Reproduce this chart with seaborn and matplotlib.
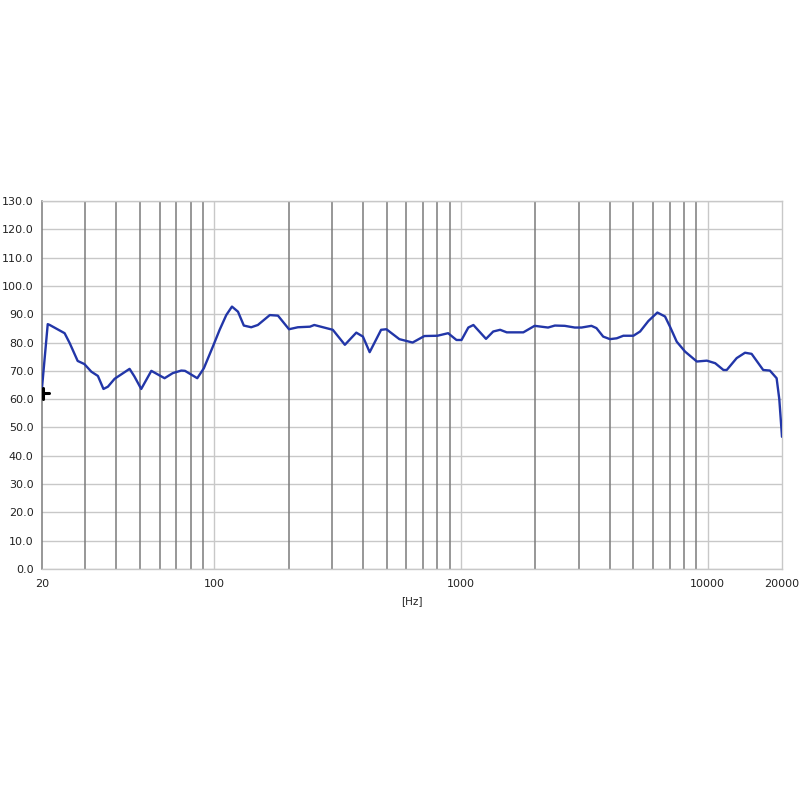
import numpy as np
import pandas as pd
import matplotlib
matplotlib.use("Agg")
import matplotlib.pyplot as plt
import matplotlib.ticker as mticker
import seaborn as sns

# frequency response
freq = [20, 21.1, 21.5, 24.7, 25.9, 27.9, 29.7, 31.7, 33.7, 35.5, 37.0, 39.4,
        45.3, 47.4, 50.5, 55.5, 62.8, 67.8, 73.4, 76, 85.2, 90.6, 98.6, 105,
        111.7, 117.8, 124.6, 131.6, 141, 150, 167.7, 181, 200.6, 218, 244, 254,
        302, 338, 376, 400, 426, 474, 498, 562, 636, 710, 802, 886, 958, 1004,
        1070, 1122, 1262, 1350, 1440, 1532, 1788, 1986, 2252, 2400, 2632, 2890,
        3078, 3376, 3538, 3768, 4014, 4276, 4548, 4996, 5318, 5744, 6248, 6712,
        7030, 7486, 8092, 9032, 9920, 10720, 11580, 11940, 13100, 14160, 15060,
        16780, 17860, 19020, 19500, 20000]
spl = [64, 86.5, 86.2, 83.3, 79.8, 73.5, 72.4, 69.7, 68.2, 63.6, 64.4, 67.2,
       70.7, 68.0, 63.6, 70.0, 67.4, 69.2, 70.1, 70.0, 67.4, 70.9, 78.6, 84.5,
       89.7, 92.7, 90.9, 86.0, 85.4, 86.2, 89.7, 89.5, 84.7, 85.4, 85.6, 86.2,
       84.5, 79.2, 83.5, 82.1, 76.6, 84.5, 84.7, 81.2, 80.0, 82.3, 82.4, 83.3, 80.9, 80.9,
       85.3, 86.2, 81.3, 83.9, 84.5, 83.6, 83.6, 85.9, 85.3, 86.0, 85.9, 85.3,
       85.3, 85.9, 85.1, 82.1, 81.2, 81.5, 82.4, 82.4, 83.9, 87.6, 90.6, 89.2,
       85.6, 80.3, 76.8, 73.3, 73.6, 72.7, 70.3, 70.3, 74.5, 76.4, 76.0,
       70.3, 70.1, 67.4, 60.0, 46.7]

# small black cursor marker at the start
cursor_v_x = [20.1, 20.1]
cursor_v_y = [60, 64]
cursor_h_x = [20.1, 21.3]
cursor_h_y = [62.3, 62.3]

y_ticks = np.arange(0, 131, 10)
x_major = [20, 100, 1000, 10000, 20000]
x_minor = [30, 40, 50, 60, 70, 80, 90, 200, 300, 400, 500, 600, 700, 800, 900,
           2000, 3000, 4000, 5000, 6000, 7000, 8000, 9000]

df = pd.DataFrame({"freq": freq, "spl": spl})

sns.set_style("white")
plt.rcParams["font.family"] = ["DejaVu Sans"]

fig = plt.figure(figsize=(8, 8), dpi=100)
ax = fig.add_axes([0.0525, 0.28875, 0.925, 0.46])

light = "#c8c8c8"
dark = "#7a7a7a"

ax.set_xscale("log")
ax.set_xlim(20, 20000)
ax.set_ylim(0, 130)

for y in y_ticks:
    ax.axhline(y, color=light, lw=1.0, zorder=0)
for x in [100, 1000, 10000]:
    ax.axvline(x, color=light, lw=1.0, zorder=0)
for x in x_minor:
    ax.axvline(x, color=dark, lw=1.1, zorder=0)

sns.lineplot(data=df, x="freq", y="spl", ax=ax, color="#2236a8", lw=1.7,
             estimator=None, sort=False, zorder=3)
ax.plot(cursor_v_x, cursor_v_y, color="black", lw=2.2, zorder=4, clip_on=False)
ax.plot(cursor_h_x, cursor_h_y, color="black", lw=2.2, zorder=4, clip_on=False)

ax.xaxis.set_major_locator(mticker.FixedLocator(x_major))
ax.xaxis.set_major_formatter(mticker.FixedFormatter([str(v) for v in x_major]))
ax.xaxis.set_minor_locator(mticker.NullLocator())
ax.set_yticks(y_ticks)
ax.set_yticklabels([f"{v:.1f}" for v in y_ticks])

ax.tick_params(axis="both", which="major", labelsize=8, labelcolor="#222222",
               color="#666666", length=4, width=0.8, direction="out")
ax.tick_params(axis="x", pad=3)
ax.tick_params(axis="y", pad=2)

for s in ["top", "right", "bottom"]:
    ax.spines[s].set_color(light)
    ax.spines[s].set_linewidth(1.0)
ax.spines["left"].set_color(dark)
ax.spines["left"].set_linewidth(1.1)

ax.set_xlabel("[Hz]", fontsize=7.5, color="#222222", labelpad=5)
ax.set_ylabel("")

fig.savefig("out.png", dpi=100)
